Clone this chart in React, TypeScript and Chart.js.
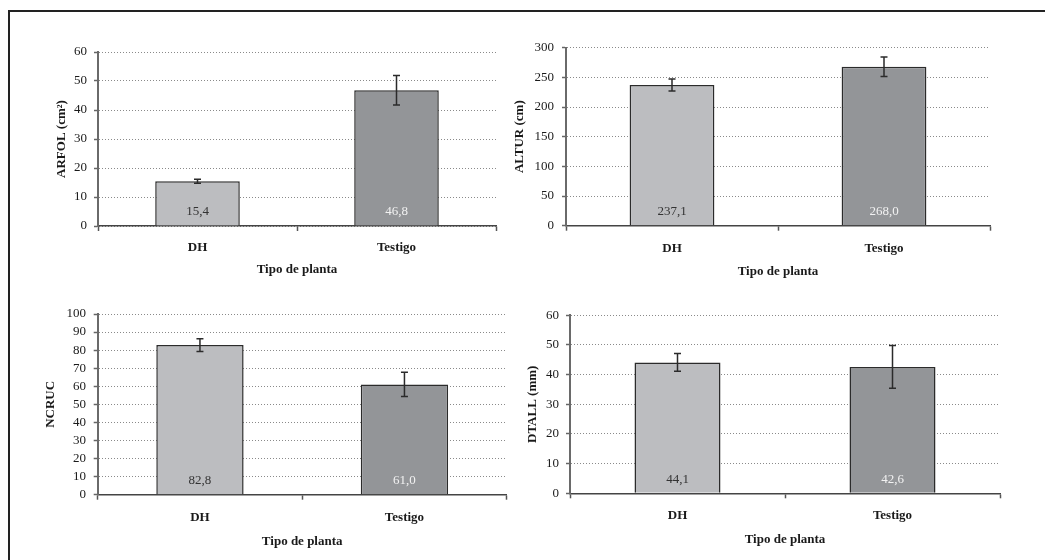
import React, { useEffect, useRef } from "react";
import { Chart, registerables } from "chart.js";

Chart.register(...registerables);

const categories = ["DH", "Testigo"];
const xTitle = "Tipo de planta";

const arfolValues = [15.4, 46.8];
const arfolErrors = [0.7, 5.1];
const alturValues = [237.1, 268.0];
const alturErrors = [10, 16.5];
const ncrucValues = [82.8, 61.0];
const ncrucErrors = [3.5, 6.7];
const dtallValues = [44.1, 42.6];
const dtallErrors = [3.0, 7.2];

const barColors = ["#bcbdc0", "#939598"];
const labelColors = ["#333333", "#f2f2f2"];
const FONT = "'Liberation Serif', 'Times New Roman', serif";

type PanelSpec = {
  x: number; y: number; w: number; h: number;
  yTitle: string; values: number[]; errors: number[];
  max: number; step: number;
  yAxisWidth: number; xAxisHeight: number;
  padTop: number; padRight: number;
  yTitlePad: number; yTickPad: number;
  xTickPad: number; xTitlePad: number;
  barPct: number;
};

const panels: PanelSpec[] = [
  { x: 20, y: 30, w: 490, h: 260, yTitle: "ARFOL (cm²)", values: arfolValues, errors: arfolErrors, max: 60, step: 10,
    yAxisWidth: 78, xAxisHeight: 64, padTop: 22, padRight: 14, yTitlePad: 34, yTickPad: 7, xTickPad: 9, xTitlePad: 13, barPct: 0.425 },
  { x: 510, y: 25, w: 500, h: 265, yTitle: "ALTUR (cm)", values: alturValues, errors: alturErrors, max: 300, step: 50,
    yAxisWidth: 56, xAxisHeight: 64.3, padTop: 22.7, padRight: 20, yTitlePad: 2.2, yTickPad: 8, xTickPad: 10, xTitlePad: 11, barPct: 0.4 },
  { x: 20, y: 290, w: 490, h: 270, yTitle: "NCRUC", values: ncrucValues, errors: ncrucErrors, max: 100, step: 10,
    yAxisWidth: 77.7, xAxisHeight: 65.3, padTop: 24, padRight: 3.3, yTitlePad: 23, yTickPad: 7.7, xTickPad: 10.5, xTitlePad: 11, barPct: 0.427 },
  { x: 510, y: 290, w: 505, h: 270, yTitle: "DTALL (mm)", values: dtallValues, errors: dtallErrors, max: 60, step: 10,
    yAxisWidth: 60, xAxisHeight: 66.7, padTop: 25.3, padRight: 15, yTitlePad: 15, yTickPad: 7, xTickPad: 10, xTitlePad: 13, barPct: 0.4 },
];

const errorBarPlugin = {
  id: "errorBars",
  afterDatasetsDraw(chart: any, _args: any, opts: any) {
    const errs: number[] = opts.errors || [];
    const meta = chart.getDatasetMeta(0);
    const ys = chart.scales.y;
    const ctx = chart.ctx;
    ctx.save();
    ctx.strokeStyle = "#2b2b2b";
    ctx.lineWidth = 1.5;
    meta.data.forEach((bar: any, i: number) => {
      const v = chart.data.datasets[0].data[i];
      const e = errs[i] || 0;
      const x = bar.x;
      const yTop = ys.getPixelForValue(v + e);
      const yBot = ys.getPixelForValue(v - e);
      ctx.beginPath();
      ctx.moveTo(x, yTop); ctx.lineTo(x, yBot);
      ctx.moveTo(x - 3.5, yTop); ctx.lineTo(x + 3.5, yTop);
      ctx.moveTo(x - 3.5, yBot); ctx.lineTo(x + 3.5, yBot);
      ctx.stroke();
    });
    ctx.restore();
  },
};

const valueLabelPlugin = {
  id: "valueLabels",
  afterDatasetsDraw(chart: any) {
    const meta = chart.getDatasetMeta(0);
    const ys = chart.scales.y;
    const ctx = chart.ctx;
    ctx.save();
    ctx.font = `13px ${FONT}`;
    ctx.textAlign = "center";
    ctx.textBaseline = "middle";
    meta.data.forEach((bar: any, i: number) => {
      const v = chart.data.datasets[0].data[i];
      ctx.fillStyle = labelColors[i];
      ctx.fillText(v.toFixed(1).replace(".", ","), bar.x, ys.getPixelForValue(0) - 14);
    });
    ctx.restore();
  },
};

function Panel({ spec }: { spec: PanelSpec }) {
  const ref = useRef<HTMLCanvasElement>(null);
  useEffect(() => {
    if (!ref.current) return;
    const chart = new Chart(ref.current, {
      type: "bar",
      data: {
        labels: categories,
        datasets: [{
          data: spec.values,
          backgroundColor: barColors,
          borderColor: "#2b2b2b",
          borderWidth: 1.5,
          barPercentage: spec.barPct,
          categoryPercentage: 1,
        }],
      },
      options: {
        responsive: false,
        animation: false,
        devicePixelRatio: 1,
        layout: { padding: { top: spec.padTop, right: spec.padRight, left: 0, bottom: 0 } },
        plugins: {
          legend: { display: false },
          tooltip: { enabled: false },
          errorBars: { errors: spec.errors },
        } as any,
        scales: {
          x: {
            offset: true,
            grid: {
              offset: true,
              drawOnChartArea: false,
              drawTicks: true,
              tickLength: 5,
              tickColor: "#555",
              tickWidth: 1.5,
            },
            border: { display: true, color: "#444", width: 1.5 },
            ticks: {
              color: "#1a1a1a",
              padding: spec.xTickPad,
              font: { family: FONT, size: 13, weight: "bold", lineHeight: 1.2 },
            },
            title: {
              display: true,
              text: xTitle,
              color: "#1a1a1a",
              padding: { top: 0, bottom: spec.xTitlePad },
              font: { family: FONT, size: 13, weight: "bold", lineHeight: 1.2 },
            },
            afterFit: (s: any) => { s.height = spec.xAxisHeight; },
          },
          y: {
            min: 0,
            max: spec.max,
            ticks: {
              stepSize: spec.step,
              autoSkip: false,
              maxTicksLimit: 50,
              color: "#1a1a1a",
              padding: spec.yTickPad,
              font: { family: FONT, size: 13, lineHeight: 1.2 },
            },
            grid: {
              color: "#8a8a8a",
              lineWidth: 1,
              tickLength: 4,
              tickColor: "#666",
              tickWidth: 1.5,
              tickBorderDash: [],
            } as any,
            border: { display: true, color: "#6a6a6a", width: 2, dash: [1, 2] },
            title: {
              display: true,
              text: spec.yTitle,
              color: "#1a1a1a",
              padding: { top: spec.yTitlePad, bottom: 0 },
              font: { family: FONT, size: 13, weight: "bold", lineHeight: 1.2 },
            },
            afterFit: (s: any) => { s.width = spec.yAxisWidth; },
          },
        },
      },
      plugins: [errorBarPlugin, valueLabelPlugin],
    });
    return () => chart.destroy();
  }, [spec]);
  return (
    <canvas
      ref={ref}
      width={spec.w}
      height={spec.h}
      style={{ position: "absolute", left: spec.x, top: spec.y, width: spec.w, height: spec.h }}
    />
  );
}

export default function App() {
  return (
    <div style={{ position: "absolute", left: 0, top: 0, width: 1045, height: 560, background: "#fff", overflow: "hidden" }}>
      <div style={{ position: "absolute", left: 8, top: 10, width: 1045, height: 560, borderTop: "2px solid #222", borderLeft: "2px solid #222" }} />
      {panels.map((p, i) => <Panel key={i} spec={p} />)}
    </div>
  );
}
